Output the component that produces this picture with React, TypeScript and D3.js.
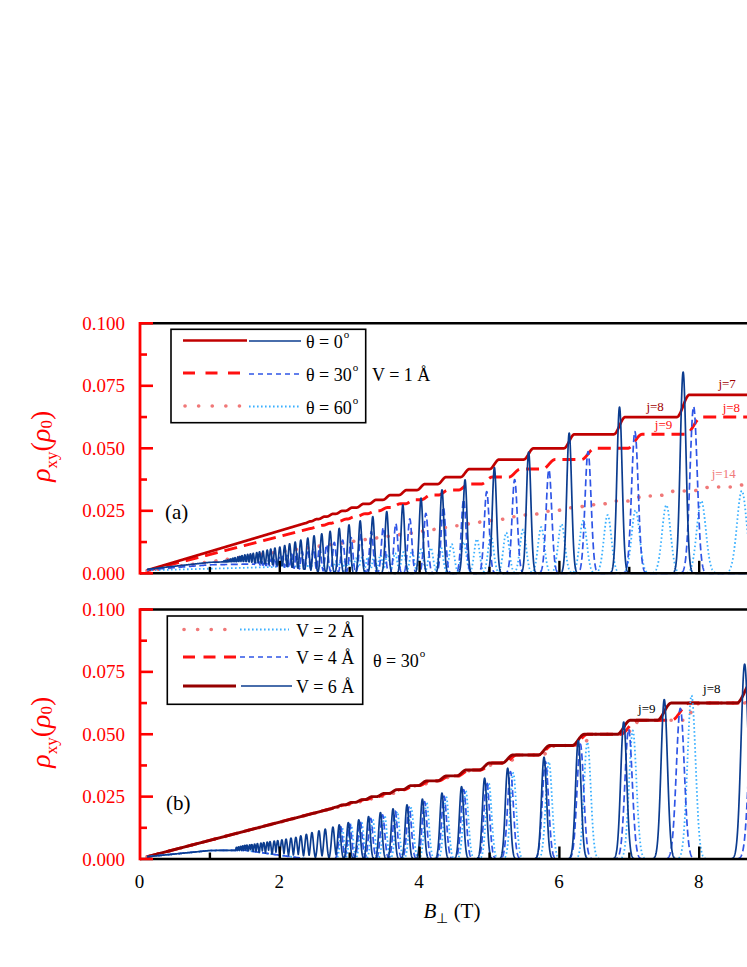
import React from "react";
import * as d3 from "d3";

const FONT = "Liberation Serif, Times New Roman, serif";

// ---------------- axis ticks ----------------
const xMinorTicks = [1, 3, 5, 7, 9];
const xMajorTicks = [2, 4, 6, 8];
const xTickLabelValues = [0, 2, 4, 6, 8];
const xTickLabels = ["0", "2", "4", "6", "8"];
const yMajorTicks = [0, 0.025, 0.05, 0.075, 0.1];
const yMinorTicks = [0.0125, 0.0375, 0.0625, 0.0875];
const yTickLabels = ["0.000", "0.025", "0.050", "0.075", "0.100"];

// ---------------- panel (a): V = 1 Å ----------------
// theta = 0
const a0PeakB = [7.77, 6.86, 6.14, 5.56, 5.07, 4.65, 4.32, 4.02, 3.76, 3.53, 3.33, 3.15, 2.99, 2.85, 2.72, 2.6, 2.49, 2.4, 2.3, 2.22, 2.14, 2.07, 2.0, 1.93, 1.87, 1.82, 1.76, 1.71, 1.67, 1.62, 1.58, 1.54, 1.5, 1.46, 1.43, 1.4, 1.36, 1.33, 1.3, 1.28, 1.25, 1.22, 1.2];
const a0PeakH = [0.0805, 0.0665, 0.0561, 0.0485, 0.0423, 0.0374, 0.0334, 0.0301, 0.0274, 0.0247, 0.0227, 0.021, 0.0194, 0.018, 0.0168, 0.0158, 0.015, 0.0141, 0.0133, 0.0125, 0.0118, 0.0111, 0.0105, 0.0101, 0.0097, 0.0093, 0.0089, 0.0086, 0.0083, 0.008, 0.0078, 0.0076, 0.0074, 0.0071, 0.0068, 0.0066, 0.0063, 0.0061, 0.0058, 0.0056, 0.0054, 0.0052, 0.005];
const a0Base = [[0.1, 0.0016], [1.0, 0.0044], [1.5, 0.0048], [2.0, 0.0032], [2.6, 0.0006], [3.0, 0]];
const a0HallStart = [0.1, 0.0012];
const a0HallSteps = [2.4, 2.49, 2.6, 2.72, 2.85, 2.99, 3.15, 3.33, 3.53, 3.76, 4.02, 4.32, 4.65, 5.07, 5.56, 6.14, 6.86, 7.77];
const a0HallLevels = [0.02, 0.0208, 0.0217, 0.0227, 0.0238, 0.025, 0.0263, 0.0278, 0.0294, 0.0313, 0.0333, 0.0357, 0.0385, 0.0417, 0.0455, 0.05, 0.0556, 0.0625, 0.0714];

// theta = 30
const a30PeakB = [7.92, 7.08, 6.41, 5.85, 5.36, 4.96, 4.63, 4.34, 4.09, 3.86, 3.66, 3.48, 3.31, 3.16, 3.02, 2.9, 2.78, 2.67, 2.57, 2.48, 2.4, 2.32, 2.24, 2.17, 2.1, 2.04, 1.99, 1.93, 1.88, 1.83, 1.78, 1.74, 1.7, 1.65];
const a30PeakH = [0.0667, 0.0567, 0.0487, 0.0414, 0.0375, 0.0327, 0.0295, 0.0265, 0.024, 0.0218, 0.0199, 0.0183, 0.0168, 0.0155, 0.0143, 0.0133, 0.0124, 0.0115, 0.0107, 0.01, 0.0094, 0.0088, 0.0082, 0.0077, 0.0072, 0.0068, 0.0064, 0.006, 0.0057, 0.0054, 0.0051, 0.0049, 0.0047, 0.0045];
const a30Base = [[0.1, 0.0014], [1.0, 0.0034], [1.6, 0.0037], [2.1, 0.0024], [2.7, 0.0004], [3.1, 0]];
const a30HallStart = [0.1, 0.001];
const a30HallSteps = [2.48, 2.57, 2.67, 2.78, 2.9, 3.02, 3.16, 3.31, 3.48, 3.66, 3.86, 4.09, 4.34, 4.63, 4.96, 5.36, 5.85, 6.41, 7.08, 7.92];
const a30HallLevels = [0.0179, 0.0185, 0.0192, 0.02, 0.0208, 0.0217, 0.0227, 0.0238, 0.025, 0.0263, 0.0278, 0.0294, 0.0313, 0.0333, 0.0357, 0.0385, 0.0417, 0.0455, 0.05, 0.0556, 0.0625];

// theta = 60
const a60PeakB = [8.61, 8.03, 7.53, 7.09, 6.69, 6.34, 6.03, 5.74, 5.48, 5.24, 5.02, 4.82, 4.63, 4.46, 4.3, 4.16, 4.02, 3.89, 3.77, 3.65, 3.54, 3.44, 3.35, 3.26, 3.17, 3.09, 3.01, 2.94, 2.87, 2.8];
const a60PeakH = [0.033, 0.029, 0.0273, 0.0253, 0.0233, 0.021, 0.0197, 0.0185, 0.0175, 0.0163, 0.015, 0.0137, 0.0125, 0.0117, 0.0109, 0.0102, 0.0096, 0.009, 0.0085, 0.0081, 0.0077, 0.0073, 0.0069, 0.0066, 0.0063, 0.006, 0.0057, 0.0054, 0.0051, 0.0048];
const a60Base = [[0.1, 0.0012], [1.5, 0.0022], [2.5, 0.003], [3.0, 0.0028], [3.6, 0.0012], [4.3, 0]];
const a60HallStart = [0.1, 0.001];
const a60HallSteps = [4.02, 4.16, 4.3, 4.46, 4.63, 4.82, 5.02, 5.24, 5.48, 5.74, 6.03, 6.34, 6.69, 7.09, 7.53, 8.03, 8.61];
const a60HallLevels = [0.0164, 0.017, 0.0176, 0.0183, 0.019, 0.0198, 0.0206, 0.0215, 0.0226, 0.0236, 0.0248, 0.0262, 0.0274, 0.0289, 0.0309, 0.0329, 0.0345, 0.0362];

// ---------------- panel (b): theta = 30 ----------------
// V = 6
const b6PeakB = [8.65, 7.5, 6.92, 6.27, 5.78, 5.26, 4.93, 4.6, 4.32, 4.04, 3.82, 3.62, 3.44, 3.27, 3.13, 2.98, 2.85, 2.76, 2.65, 2.56, 2.46, 2.38, 2.3, 2.23, 2.16, 2.09, 2.03, 1.97, 1.92, 1.86, 1.82, 1.77, 1.73, 1.68, 1.64, 1.6, 1.57, 1.53, 1.5, 1.47, 1.44, 1.41, 1.38];
const b6PeakH = [0.0781, 0.0639, 0.0549, 0.0475, 0.0408, 0.0364, 0.0324, 0.029, 0.0264, 0.024, 0.0217, 0.0201, 0.0186, 0.017, 0.0157, 0.0146, 0.0137, 0.0128, 0.012, 0.0113, 0.0106, 0.0099, 0.0093, 0.0087, 0.0084, 0.008, 0.0077, 0.0074, 0.0072, 0.007, 0.0068, 0.0066, 0.0064, 0.0062, 0.006, 0.0058, 0.0057, 0.0056, 0.0055, 0.0053, 0.0051, 0.0049, 0.0047];
const b6Base = [[0.1, 0.0009], [1.0, 0.0034], [1.5, 0.0035], [2.0, 0.0015], [2.4, 0]];
const b6HallStart = [0.1, 0.0009];
const b6HallSteps = [2.76, 2.85, 2.98, 3.13, 3.27, 3.44, 3.62, 3.82, 4.04, 4.32, 4.6, 4.93, 5.26, 5.78, 6.27, 6.92, 7.5, 8.65];
const b6HallLevels = [0.02, 0.0208, 0.0217, 0.0227, 0.0238, 0.025, 0.0263, 0.0278, 0.0294, 0.0313, 0.0333, 0.0357, 0.0385, 0.0417, 0.0455, 0.05, 0.0556, 0.0625, 0.0714];

// V = 4
const b4PeakB = [8.78, 7.73, 6.99, 6.3, 5.8, 5.3, 4.96, 4.63, 4.35, 4.07, 3.85, 3.65, 3.47, 3.3, 3.15, 3.0, 2.87];
const b4PeakH = [0.072, 0.0604, 0.052, 0.046, 0.039, 0.035, 0.031, 0.0278, 0.0252, 0.023, 0.0208, 0.0192, 0.0177, 0.0163, 0.015, 0.014, 0.013];
const b4Base = [[0.1, 0.0009], [1.0, 0.0034], [1.5, 0.0035], [2.0, 0.0015], [2.4, 0]];
const b4HallStart = [0.1, 0.0009];
const b4HallSteps = [2.87, 3.0, 3.15, 3.3, 3.47, 3.65, 3.85, 4.07, 4.35, 4.63, 4.96, 5.3, 5.8, 6.3, 6.99, 7.73, 8.78];
const b4HallLevels = [0.0208, 0.0217, 0.0227, 0.0238, 0.025, 0.0263, 0.0278, 0.0294, 0.0313, 0.0333, 0.0357, 0.0385, 0.0417, 0.0455, 0.05, 0.0556, 0.0625, 0.0714];

// V = 2
const b2PeakB = [8.95, 7.89, 7.05, 6.4, 5.85, 5.34, 4.99, 4.66, 4.38, 4.1, 3.88, 3.68, 3.5, 3.33, 3.17, 3.02, 2.89];
const b2PeakH = [0.075, 0.0656, 0.0515, 0.0468, 0.039, 0.0345, 0.0305, 0.0275, 0.025, 0.0228, 0.0205, 0.019, 0.0175, 0.016, 0.0148, 0.0138, 0.0128];
const b2Base = [[0.1, 0.0009], [1.0, 0.0034], [1.5, 0.0035], [2.0, 0.0015], [2.4, 0]];
const b2HallStart = [0.1, 0.0009];
const b2HallSteps = [2.89, 3.02, 3.17, 3.33, 3.5, 3.68, 3.88, 4.1, 4.38, 4.66, 4.99, 5.34, 5.85, 6.4, 7.05, 7.89, 8.95];
const b2HallLevels = [0.0208, 0.0217, 0.0227, 0.0238, 0.025, 0.0263, 0.0278, 0.0294, 0.0313, 0.0333, 0.0357, 0.0385, 0.0417, 0.0455, 0.05, 0.0556, 0.0625, 0.0714];

// ---------------- styles ----------------
const ST: any = {
  redSolidA: { color: "#C00000", width: 2.7 },
  redSolidB: { color: "#960000", width: 2.9 },
  redDash: { color: "#FF1010", width: 2.9, dash: "13,7" },
  redDot: { color: "#F07878", width: 3.6, dash: "0.1,11.5", cap: "round" },
  blueSolid: { color: "#0B3C8F", width: 1.7 },
  blueDash: { color: "#2F55E6", width: 1.7, dash: "7,3.5" },
  blueDot: { color: "#3AB0FF", width: 1.8, dash: "1.6,2.4" },
};

const B_START = 0.1;
const B_END = 8.95;
const STEP = 0.0025;

function peakCurve(pos: number[], hts: number[], base: number[][], w0: number, w1: number) {
  const baseScale = d3.scaleLinear().domain(base.map((d) => d[0])).range(base.map((d) => d[1])).clamp(true);
  const n = Math.min(pos.length, hts.length);
  const pts: [number, number][] = [];
  for (let B = B_START; B <= B_END; B += STEP) {
    let v = baseScale(B);
    for (let k = 0; k < n; k++) {
      const s = w0 + w1 * pos[k];
      const d = (B - pos[k]) / s;
      if (Math.abs(d) < 6) {
        const g = hts[k] * Math.exp(-0.5 * d * d);
        if (g > v) v = g;
      }
    }
    pts.push([B, v]);
  }
  return pts;
}

function hallCurve(start: number[], steps: number[], levels: number[], w0: number, w1: number) {
  const half = (s: number) => 2.2 * (w0 + w1 * s);
  const firstX = steps[0] - half(steps[0]);
  const pts: [number, number][] = [];
  for (let B = start[0]; B <= B_END; B += STEP) {
    let v: number;
    if (B <= firstX) {
      v = start[1] + ((levels[0] - start[1]) * (B - start[0])) / (firstX - start[0]);
    } else {
      v = levels[0];
      for (let i = 0; i < steps.length; i++) {
        const s = steps[i];
        const a = half(s);
        if (B >= s + a) {
          v = levels[i + 1];
        } else if (B > s - a) {
          const t = (B - (s - a)) / (2 * a);
          v = levels[i] + (levels[i + 1] - levels[i]) * (t * t * (3 - 2 * t));
          break;
        } else break;
      }
    }
    pts.push([B, v]);
  }
  return pts;
}

const x = d3.scaleLinear().domain([0, 10]).range([140, 839]);

const panels = [
  {
    id: "a",
    top: 323.3,
    bottom: 573.3,
    curves: [
      { pts: hallCurve(a60HallStart, a60HallSteps, a60HallLevels, 0, 0.008), st: ST.redDot },
      { pts: hallCurve(a30HallStart, a30HallSteps, a30HallLevels, 0.008, 0.0055), st: ST.redDash },
      { pts: hallCurve(a0HallStart, a0HallSteps, a0HallLevels, 0.01, 0.004), st: ST.redSolidA },
      { pts: peakCurve(a60PeakB, a60PeakH, a60Base, 0, 0.008), st: ST.blueDot },
      { pts: peakCurve(a30PeakB, a30PeakH, a30Base, 0.008, 0.0055), st: ST.blueDash },
      { pts: peakCurve(a0PeakB, a0PeakH, a0Base, 0.01, 0.004), st: ST.blueSolid },
    ],
  },
  {
    id: "b",
    top: 609.5,
    bottom: 859,
    curves: [
      { pts: hallCurve(b2HallStart, b2HallSteps, b2HallLevels, 0.01, 0.006), st: ST.redDot },
      { pts: hallCurve(b4HallStart, b4HallSteps, b4HallLevels, 0.01, 0.006), st: ST.redDash },
      { pts: hallCurve(b6HallStart, b6HallSteps, b6HallLevels, 0.008, 0.005), st: ST.redSolidB },
      { pts: peakCurve(b2PeakB, b2PeakH, b2Base, 0.01, 0.006), st: ST.blueDot },
      { pts: peakCurve(b4PeakB, b4PeakH, b4Base, 0.01, 0.006), st: ST.blueDash },
      { pts: peakCurve(b6PeakB, b6PeakH, b6Base, 0.008, 0.005), st: ST.blueSolid },
    ],
  },
];

const serif = { fontFamily: FONT };

function Seg({ x1, x2, y, st, dash }: any) {
  return (
    <line
      x1={x1}
      x2={x2}
      y1={y}
      y2={y}
      stroke={st.color}
      strokeWidth={st.width}
      strokeDasharray={dash !== undefined ? dash : st.dash}
      strokeLinecap={st.cap || "butt"}
    />
  );
}

function Deg({ x: tx, y: ty, main }: any) {
  return (
    <text x={tx} y={ty} style={serif} fontSize={18} fill="#000">
      {main}
      <tspan fontSize={11} dy={-10} dx={1}>o</tspan>
    </text>
  );
}

export default function App() {
  const W = 747;
  const H = 967;
  return (
    <svg
      width={W}
      height={H}
      viewBox={`0 0 ${W} ${H}`}
      style={{ position: "absolute", left: 0, top: 0, background: "#fff", fontFamily: FONT }}
    >
      <defs>
        {panels.map((p) => (
          <clipPath id={`clip-${p.id}`} key={p.id}>
            <rect x={140} y={p.top - 4} width={W - 140} height={p.bottom - p.top + 6} />
          </clipPath>
        ))}
      </defs>
      {panels.map((p) => {
        const y = d3.scaleLinear().domain([0, 0.1]).range([p.bottom, p.top]);
        const line = d3
          .line<[number, number]>()
          .x((d) => x(d[0]))
          .y((d) => y(d[1]));
        const mid = (p.top + p.bottom) / 2;
        return (
          <g key={p.id}>
            <g clipPath={`url(#clip-${p.id})`}>
              {p.curves.map((c, i) => (
                <path
                  key={i}
                  d={line(c.pts as any) || ""}
                  fill="none"
                  stroke={c.st.color}
                  strokeWidth={c.st.width}
                  strokeDasharray={c.st.dash}
                  strokeLinecap={c.st.cap || "butt"}
                  strokeLinejoin="round"
                />
              ))}
            </g>
            {/* frame */}
            <line x1={140} x2={W} y1={p.top} y2={p.top} stroke="#000" strokeWidth={2.6} />
            <line x1={140} x2={W} y1={p.bottom} y2={p.bottom} stroke="#000" strokeWidth={2.6} />
            {xMinorTicks.map((v) => (
              <line key={"mi" + v} x1={x(v)} x2={x(v)} y1={p.bottom} y2={p.bottom - 6.5} stroke="#000" strokeWidth={2.4} />
            ))}
            {xMajorTicks.map((v) => (
              <line key={"ma" + v} x1={x(v)} x2={x(v)} y1={p.bottom} y2={p.bottom - 12.5} stroke="#000" strokeWidth={2.4} />
            ))}
            {/* red left axis */}
            <line x1={140} x2={140} y1={p.top - 1.3} y2={p.bottom + 1.3} stroke="#FF0000" strokeWidth={2.8} />
            {yMajorTicks.map((v) => (
              <line key={"ym" + v} x1={140} x2={153} y1={y(v)} y2={y(v)} stroke="#FF0000" strokeWidth={2.6} />
            ))}
            {yMinorTicks.map((v) => (
              <line key={"yn" + v} x1={140} x2={147} y1={y(v)} y2={y(v)} stroke="#FF0000" strokeWidth={2.6} />
            ))}
            {yMajorTicks.map((v, i) => (
              <text key={"yl" + v} x={125} y={y(v) + 6.5} textAnchor="end" style={serif} fontSize={19} fill="#FF0000">
                {yTickLabels[i]}
              </text>
            ))}
            {/* y axis title */}
            <text transform={`translate(50,${mid - 2}) rotate(-90)`} textAnchor="middle" fill="#FF0000" style={serif}>
              <tspan fontStyle="italic" fontSize={28}>ρ</tspan>
              <tspan fontSize={17} dy={7}>xy</tspan>
              <tspan fontSize={28} dy={-7}>(</tspan>
              <tspan fontStyle="italic" fontSize={28}>ρ</tspan>
              <tspan fontSize={17} dy={2}>0</tspan>
              <tspan fontSize={28} dy={-2}>)</tspan>
            </text>
          </g>
        );
      })}

      {/* ---------- panel (a) extras ---------- */}
      <text x={165} y={519} style={serif} fontSize={21} fill="#000">(a)</text>
      <rect x={171} y={329.3} width={194.7} height={93.4} fill="#fff" stroke="#000" strokeWidth={1.6} />
      <Seg x1={183} x2={247} y={340.5} st={ST.redSolidA} />
      <Seg x1={249} x2={301} y={341} st={ST.blueSolid} />
      <Seg x1={183} x2={247} y={373} st={ST.redDash} dash="12,10.5" />
      <Seg x1={249} x2={301} y={374} st={ST.blueDash} dash="5,4" />
      <Seg x1={185} x2={247} y={406} st={ST.redDot} dash="0.1,13.5" />
      <Seg x1={249} x2={301} y={406.5} st={ST.blueDot} />
      <Deg x={306} y={348} main="θ = 0" />
      <Deg x={306} y={381} main="θ = 30" />
      <Deg x={306} y={414} main="θ = 60" />
      <text x={372} y={381} style={serif} fontSize={18} fill="#000">V = 1 Å</text>

      {(() => {
        const y = d3.scaleLinear().domain([0, 0.1]).range([573.3, 323.3]);
        return (
          <g style={serif} fontSize={13} textAnchor="middle">
            <text x={x(8.4)} y={y(0.074)} fill="#A00000">j=7</text>
            <text x={x(7.37)} y={y(0.0649)} fill="#A00000">j=8</text>
            <text x={x(7.49)} y={y(0.0577)} fill="#FF1010">j=9</text>
            <text x={x(8.46)} y={y(0.0646)} fill="#FF1010">j=8</text>
            <text x={x(8.35)} y={y(0.038)} fill="#F07878">j=14</text>
          </g>
        );
      })()}

      {/* ---------- panel (b) extras ---------- */}
      <text x={166} y={810} style={serif} fontSize={21} fill="#000">(b)</text>
      <rect x={167.3} y={616} width={195.4} height={88.3} fill="#fff" stroke="#000" strokeWidth={1.6} />
      <Seg x1={184} x2={229} y={629.5} st={ST.redDot} dash="0.1,13.5" />
      <Seg x1={240} x2={289} y={629.5} st={ST.blueDot} />
      <Seg x1={183} x2={237} y={657} st={ST.redDash} dash="12,8.5" />
      <Seg x1={240} x2={288} y={657} st={ST.blueDash} dash="5,4" />
      <Seg x1={183} x2={236} y={686} st={ST.redSolidB} />
      <Seg x1={241} x2={292} y={686} st={ST.blueSolid} />
      <text x={296} y={636.5} style={serif} fontSize={18} fill="#000">V = 2 Å</text>
      <text x={296} y={664} style={serif} fontSize={18} fill="#000">V = 4 Å</text>
      <text x={296} y={693} style={serif} fontSize={18} fill="#000">V = 6 Å</text>
      <Deg x={373} y={667} main="θ = 30" />

      {(() => {
        const y = d3.scaleLinear().domain([0, 0.1]).range([859, 609.5]);
        return (
          <g style={serif} fontSize={13} textAnchor="middle" fill="#000">
            <text x={x(7.25)} y={y(0.0585)}>j=9</text>
            <text x={x(8.18)} y={y(0.0665)}>j=8</text>
          </g>
        );
      })()}

      {/* x tick labels and title */}
      {xTickLabelValues.map((v, i) => (
        <text key={"xl" + v} x={x(v) - 0.5} y={888} textAnchor="middle" style={serif} fontSize={19} fill="#000">
          {xTickLabels[i]}
        </text>
      ))}
      <text x={452} y={918} textAnchor="middle" style={serif} fill="#000">
        <tspan fontStyle="italic" fontSize={21}>B</tspan>
        <tspan fontSize={14} dy={5}>⊥</tspan>
        <tspan fontSize={21} dy={-5}> (T)</tspan>
      </text>
    </svg>
  );
}
